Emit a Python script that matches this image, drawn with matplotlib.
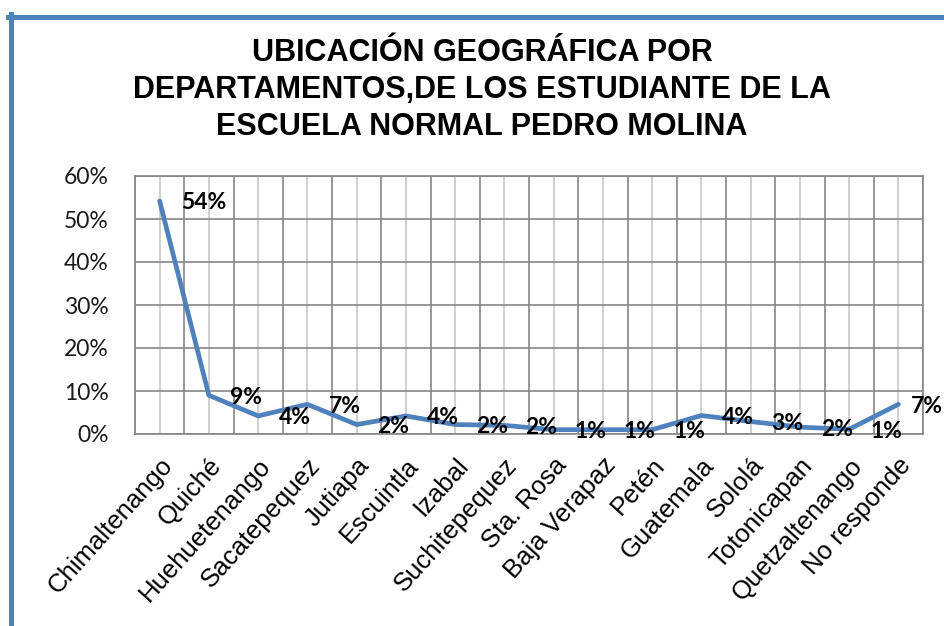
#!/usr/bin/env python3

import matplotlib
matplotlib.use('Agg')
import matplotlib.pyplot as plt
from matplotlib.lines import Line2D
from matplotlib.ticker import PercentFormatter
import numpy as np

# departamentos y porcentaje de estudiantes
departamentos = ['Chimaltenango', 'Quiché', 'Huehuetenango', 'Sacatepequez',
                 'Jutiapa', 'Escuintla', 'Izabal', 'Suchitepequez', 'Sta. Rosa',
                 'Baja Verapaz', 'Petén', 'Guatemala', 'Sololá', 'Totonicapan',
                 'Quetzaltenango', 'No responde']
porcentajes = [0.542, 0.090, 0.042, 0.069, 0.022, 0.042, 0.022, 0.020,
               0.010, 0.010, 0.010, 0.043, 0.029, 0.016, 0.011, 0.069]
yticks = [0.0, 0.1, 0.2, 0.3, 0.4, 0.5, 0.6]

titulo = ('UBICACIÓN GEOGRÁFICA POR\n'
          'DEPARTAMENTOS,DE LOS ESTUDIANTE DE LA\n'
          'ESCUELA NORMAL PEDRO MOLINA')

azul = '#4F81BD'
gris = '#868686'
gris_claro = '#C8C8C8'


def main():
    W, H = 944, 626
    fig = plt.figure(figsize=(W / 100, H / 100), dpi=100)

    # marco azul del area del grafico (solo arriba e izquierda visibles)
    fig.lines.append(Line2D([8 / W, 1.0], [1 - 16.5 / H, 1 - 16.5 / H],
                            transform=fig.transFigure, color=azul, lw=3.6))
    fig.lines.append(Line2D([10.5 / W, 10.5 / W], [1 - 14 / H, 0.0],
                            transform=fig.transFigure, color=azul, lw=3.6))

    fig.text(482 / W, 1 - 90 / H, titulo, ha='center', va='center',
             fontsize=22, fontweight='bold', family='Liberation Sans',
             linespacing=1.3)

    ax = fig.add_axes([135 / W, 1 - 434 / H, (923 - 135) / W, (434 - 176) / H])

    x = np.arange(len(departamentos))
    ax.plot(x, porcentajes, color=azul, lw=3.4, solid_joinstyle='round',
            solid_capstyle='round', zorder=3)

    for i, v in enumerate(porcentajes):
        dx = 21 if i < len(porcentajes) - 1 else 12
        ax.annotate('{:.0%}'.format(v), (i, v), xytext=(dx, -2),
                    textcoords='offset pixels', ha='left', va='center',
                    fontsize=16.5, fontweight='bold', family='Lato',
                    color='black', annotation_clip=False, zorder=4)

    ax.set_xlim(-0.5, len(departamentos) - 0.5)
    ax.set_ylim(0, 0.6)
    ax.set_yticks(yticks)
    ax.yaxis.set_major_formatter(PercentFormatter(1.0, decimals=0))
    ax.set_xticks(x)
    ax.set_xticks(np.arange(len(departamentos) + 1) - 0.5, minor=True)
    ax.set_xticklabels(departamentos, rotation=48, ha='right',
                       rotation_mode='anchor', fontsize=18.5,
                       family='Liberation Sans')

    ax.grid(which='major', axis='x', color=gris_claro, lw=1.2)
    ax.grid(which='minor', axis='x', color=gris, lw=1.2)
    ax.grid(which='major', axis='y', color=gris, lw=1.2)
    ax.set_axisbelow(True)

    ax.tick_params(axis='both', which='both', length=0)
    ax.tick_params(axis='y', pad=19, labelsize=16.5, labelcolor='#1a1a1a')
    ax.tick_params(axis='x', pad=14)
    for lab in ax.get_yticklabels():
        lab.set_family('Lato')

    for s in ax.spines.values():
        s.set_color(gris)
        s.set_linewidth(1.2)

    fig.savefig('out.png', dpi=100, facecolor='white')


if __name__ == '__main__':
    main()
